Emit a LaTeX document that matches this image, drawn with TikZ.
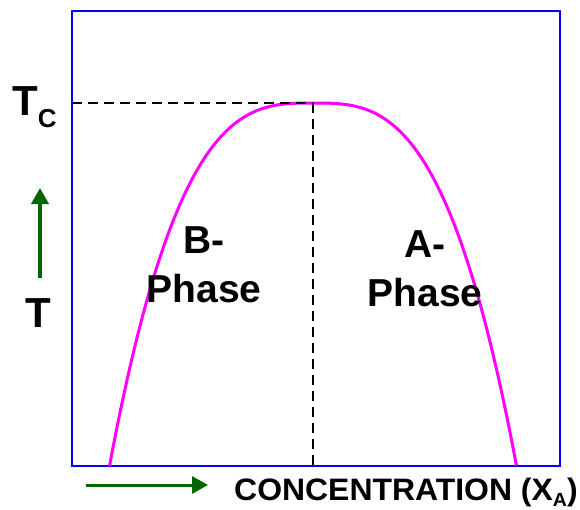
\documentclass[tikz,border=0pt]{standalone}
\usepackage{fontspec}
\setmainfont{Liberation Sans}
\usetikzlibrary{arrows.meta}
\definecolor{boxblue}{RGB}{0,0,255}
\definecolor{curvemag}{RGB}{255,0,255}
\definecolor{arrgreen}{RGB}{0,102,0}
\begin{document}
\begin{tikzpicture}[x=1pt,y=-1pt,
  lbl/.style={inner sep=0pt,font=\bfseries},
  phase/.style={inner sep=0pt,align=center,anchor=base,font=\bfseries\fontsize{39}{49}\selectfont},
  garrow/.style={draw=arrgreen,line width=3.5pt,-{Triangle[length=16pt,width=17pt]}},
  dash line/.style={draw=black,line width=1.8pt,dash pattern=on 10pt off 6pt}]
\useasboundingbox (0,0) rectangle (580,509);
% box
\draw[boxblue,line width=2.5pt] (72,11) rectangle (560,466);
% curve
\draw[curvemag,line width=3pt,line join=round] plot[domain=-1:1,samples=161,smooth] ({313+203.5*\x},{103+363*abs(\x)^3});
% dashed guides
\coordinate (tcl) at (72,103);
\coordinate (peak) at (313,103);
\coordinate (bot) at (313,466);
\draw[dash line] (tcl) -- (peak);
\draw[dash line] (peak) -- (bot);
% labels
\node[lbl,anchor=base west] (tc) at (12,115) {\fontsize{42}{42}\selectfont T\raisebox{-12pt}{\fontsize{26}{26}\selectfont C}};
\node[lbl,anchor=base] (t) at (38,327) {\fontsize{42}{42}\selectfont T};
\node[phase] (bphase) at (204,302) {B-\\Phase};
\node[phase] (aphase) at (425,306) {A-\\Phase};
\node[lbl,anchor=base west] (conc) at (234,500) {\scalebox{1.03}[1]{\fontsize{31}{31}\selectfont CONCENTRATION (X\raisebox{-6pt}{\fontsize{19}{19}\selectfont A})}};
% arrows
\coordinate (ta0) at (40,278);
\coordinate (ta1) at (40,188);
\coordinate (ca0) at (86,485);
\coordinate (ca1) at (208,485);
\draw[garrow] (ta0) -- (ta1);
\draw[garrow,line width=3pt] (ca0) -- (ca1);
\end{tikzpicture}
\end{document}
